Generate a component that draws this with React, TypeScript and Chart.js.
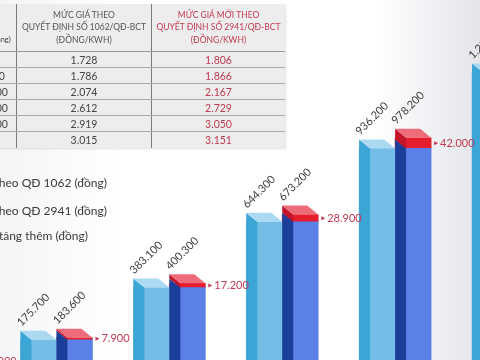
import React, { useEffect, useRef } from "react";
import { Chart, registerables } from "chart.js";
Chart.register(...registerables);

// Monthly consumption levels (kWh) – one group of bars per level
const usageLevels = [50, 100, 200, 300, 400, 500];
// Electricity bill under Decision 1062 (đồng)
const oldTotals = [86400, 175700, 383100, 644300, 936200, 1237700];
// Electricity bill under Decision 2941 (đồng)
const newTotals = [90300, 183600, 400300, 673200, 978200, 1293300];
// Extra amount paid (đồng)
const increases = [3900, 7900, 17200, 28900, 42000, 55600];

// Price table
const tierLabels = ["0 - 50", "51 - 100", "101 - 200", "201 - 300", "301 - 400", "≥ 401"];
const oldPrices = [1728, 1786, 2074, 2612, 2919, 3015];
const newPrices = [1806, 1866, 2167, 2729, 3050, 3151];
const tableHeaderTier = ["Bậc", "thang", "(kWh/tháng)"];
const tableHeaderOld = ["MỨC GIÁ THEO", "QUYẾT ĐỊNH SỐ 1062/QĐ-BCT", "(ĐỒNG/KWH)"];
const tableHeaderNew = ["MỨC GIÁ MỚI THEO", "QUYẾT ĐỊNH SỐ 2941/QĐ-BCT", "(ĐỒNG/KWH)"];

const legendLabels = [
  "Tiền điện tính theo QĐ 1062 (đồng)",
  "Tiền điện tính theo QĐ 2941 (đồng)",
  "Số tiền chênh lệch do giá tăng thêm (đồng)",
];

const FONT = "Lato, 'Open Sans', sans-serif";
const RED_TEXT = "#c23a52";

const fmt = (v: number) => v.toString().replace(/\B(?=(\d{3})+(?!\d))/g, ".");

const box3d = {
  id: "box3d",
  afterDatasetsDraw(chart: any) {
    const ctx = chart.ctx as CanvasRenderingContext2D;
    const D = 11; // side depth
    const DY = 9; // top slant
    chart.data.datasets.forEach((ds: any, di: number) => {
      const meta = chart.getDatasetMeta(di);
      meta.data.forEach((el: any, i: number) => {
        const p = el.getProps(["x", "y", "base", "width"], true);
        const left = p.x - p.width / 2;
        const right = p.x + p.width / 2;
        const top = Math.min(p.y, p.base);
        const bottom = Math.max(p.y, p.base);
        ctx.save();
        ctx.fillStyle = ds.sideColor;
        ctx.beginPath();
        ctx.moveTo(left, top - DY);
        ctx.lineTo(left + D, top);
        ctx.lineTo(left + D, bottom);
        ctx.lineTo(left, bottom - DY);
        ctx.closePath();
        ctx.fill();
        if (ds.topColor) {
          ctx.fillStyle = ds.topColor;
          ctx.beginPath();
          ctx.moveTo(left, top - DY);
          ctx.lineTo(right - D, top - DY);
          ctx.lineTo(right, top);
          ctx.lineTo(left + D, top);
          ctx.closePath();
          ctx.fill();
          const total = di === 0 ? oldTotals[i] : newTotals[i];
          ctx.translate(left + 1, top - DY - 4);
          ctx.rotate(-Math.PI / 4);
          ctx.fillStyle = "#3c3c3c";
          ctx.font = `11px ${FONT}`;
          ctx.textAlign = "left";
          ctx.textBaseline = "alphabetic";
          ctx.fillText(fmt(total), 0, 0);
        }
        ctx.restore();
        if (di === 2) {
          const cy = (top + bottom) / 2;
          const x0 = right + 3;
          ctx.save();
          ctx.fillStyle = RED_TEXT;
          ctx.beginPath();
          ctx.moveTo(x0, cy - 2);
          ctx.lineTo(x0 + 4, cy);
          ctx.lineTo(x0, cy + 2);
          ctx.closePath();
          ctx.fill();
          ctx.font = `11px ${FONT}`;
          ctx.textAlign = "left";
          ctx.textBaseline = "middle";
          ctx.fillText(fmt(increases[i]), x0 + 6, cy);
          ctx.restore();
        }
      });
    });
  },
};

function ChartCanvas() {
  const ref = useRef<HTMLCanvasElement | null>(null);
  useEffect(() => {
    if (!ref.current) return;
    const pts = (arr: number[]) => arr.map((v, i) => ({ x: i + 1, y: v }));
    const chart = new Chart(ref.current, {
      type: "bar",
      data: {
        datasets: [
          {
            label: legendLabels[0],
            data: pts(oldTotals),
            stack: "old",
            backgroundColor: "#74bde6",
            sideColor: "#3ba5d6",
            topColor: "#abd9f2",
          } as any,
          {
            label: legendLabels[1],
            data: pts(oldTotals),
            stack: "new",
            backgroundColor: "#5b80e8",
            sideColor: "#1b3f98",
          } as any,
          {
            label: legendLabels[2],
            data: pts(increases),
            stack: "new",
            backgroundColor: "#e51d2e",
            sideColor: "#c3142a",
            topColor: "#ee6b79",
          } as any,
        ],
      },
      options: {
        animation: false,
        responsive: false,
        maintainAspectRatio: false,
        layout: { padding: { top: 0, bottom: 16, left: 0, right: 0 } },
        plugins: { legend: { display: false }, tooltip: { enabled: false } },
        datasets: { bar: { barThickness: 36, borderWidth: 0 } },
        scales: {
          x: { type: "linear", min: 1.5, max: 5.752, display: false, offset: false },
          y: { stacked: true, min: 0, max: 1526000, display: false },
        },
      },
      plugins: [box3d],
    });
    return () => chart.destroy();
  }, []);
  return <canvas ref={ref} width={480} height={400} style={{ display: "block", position: "absolute", left: 0, top: 0 }} />;
}

function PriceTable() {
  const cols = [65, 135, 133];
  const cell = (w: number, extra: React.CSSProperties = {}): React.CSSProperties => ({
    width: w,
    boxSizing: "border-box",
    display: "flex",
    alignItems: "center",
    justifyContent: "center",
    textAlign: "center",
    whiteSpace: "nowrap",
    ...extra,
  });
  const vline = "1px solid #7a7a7a";
  return (
    <div
      style={{
        position: "absolute",
        left: -48,
        top: 4,
        width: cols[0] + cols[1] + cols[2],
        background: "#ededed",
        boxShadow: "1px 1px 2px rgba(0,0,0,0.12)",
        fontFamily: FONT,
      }}
    >
      <div style={{ display: "flex", height: 48, borderBottom: "1px solid #9a9a9a", boxSizing: "border-box" }}>
        <div style={cell(cols[0], { borderRight: vline, fontSize: 7.5, color: "#444", lineHeight: "12.5px", flexDirection: "column", paddingLeft: 12 })}>
          {tableHeaderTier.map((t) => <div key={t}>{t}</div>)}
        </div>
        <div style={cell(cols[1], { borderRight: vline, fontSize: 8.5, color: "#555", lineHeight: "12.5px", flexDirection: "column" })}>
          {tableHeaderOld.map((t) => <div key={t}>{t}</div>)}
        </div>
        <div style={cell(cols[2], { fontSize: 8.5, color: RED_TEXT, lineHeight: "12.5px", flexDirection: "column" })}>
          {tableHeaderNew.map((t) => <div key={t}>{t}</div>)}
        </div>
      </div>
      {tierLabels.map((t, i) => (
        <div
          key={t}
          style={{
            display: "flex",
            height: 16,
            borderBottom: i < tierLabels.length - 1 ? "1px solid #a8a8a8" : "none",
            boxSizing: "border-box",
            fontSize: 10.5,
          }}
        >
          <div style={cell(cols[0], { borderRight: vline, color: "#444", paddingLeft: 2 })}>{t}</div>
          <div style={cell(cols[1], { borderRight: vline, color: "#444" })}>{fmt(oldPrices[i])}</div>
          <div style={cell(cols[2], { color: RED_TEXT })}>{fmt(newPrices[i])}</div>
        </div>
      ))}
    </div>
  );
}

function Legend() {
  const tops = [176, 204, 229];
  const rights = [107, 107, 88];
  return (
    <>
      {legendLabels.map((t, i) => (
        <div
          key={t}
          style={{
            position: "absolute",
            right: 480 - rights[i],
            top: tops[i],
            fontFamily: FONT,
            fontSize: 12,
            lineHeight: "14px",
            color: "#3a3a3a",
            whiteSpace: "nowrap",
            textAlign: "right",
          }}
        >
          {t}
        </div>
      ))}
    </>
  );
}

export default function App() {
  return (
    <div
      style={{
        position: "fixed",
        left: 0,
        top: 0,
        width: 480,
        height: 360,
        overflow: "hidden",
        background:
          "linear-gradient(to right, #f4f5f7 0%, #ffffff 25%, #ffffff 78%, #eceef1 92%, #e4e6ea 100%)",
      }}
    >
      <ChartCanvas />
      <PriceTable />
      <Legend />
    </div>
  );
}
